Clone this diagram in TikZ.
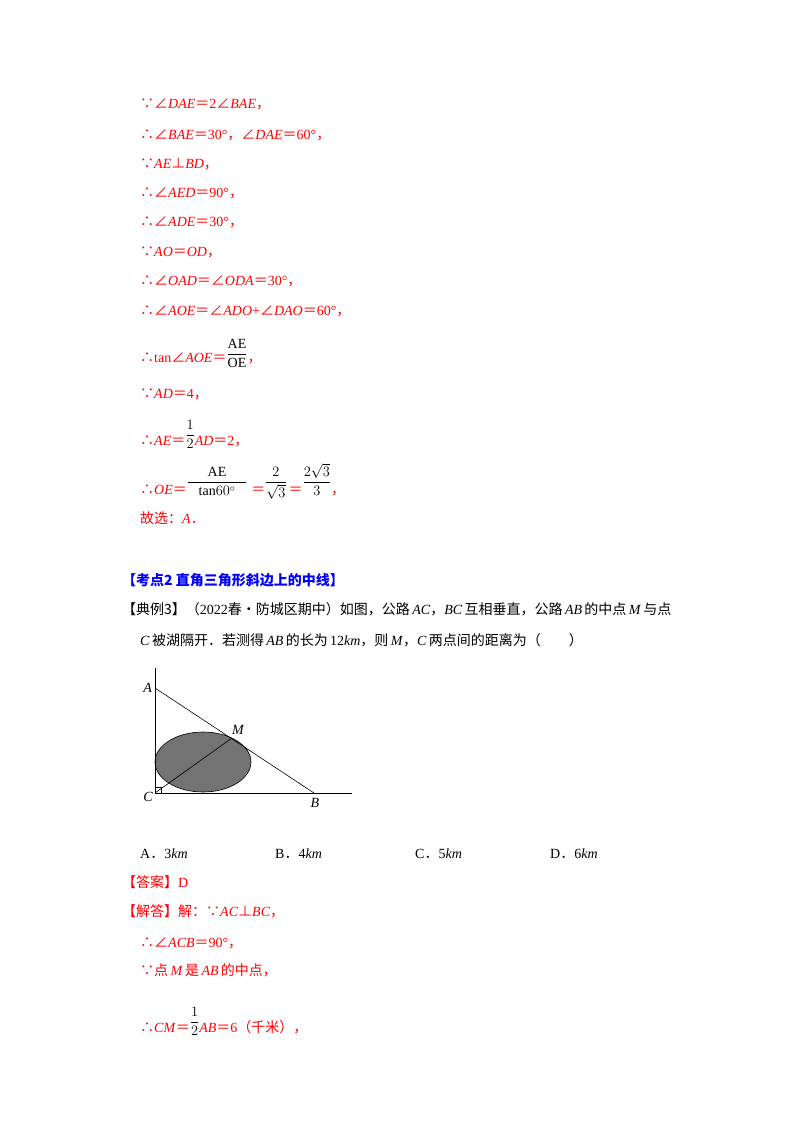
\documentclass[tikz,border=0pt]{standalone}
\usepackage{amsmath}
\usepackage{fontspec}
\setmainfont{Liberation Serif}
\newfontfamily\cjk{Noto Sans CJK SC}
\newcommand{\cj}[1]{{\cjk #1}}
\begin{document}
\begin{tikzpicture}[x=1pt,y=-1pt,
  txt/.style={anchor=base west,inner sep=0pt,font=\fontsize{14}{17}\selectfont},
  rtxt/.style={txt,text=red},
  lbl/.style={inner sep=0pt,font=\fontsize{14}{17}\selectfont\itshape}]
\useasboundingbox[fill=white] (0,0) rectangle (800,1132);
\node[rtxt] (l1) at (140,108) {\cj{∵∠}\textit{DAE}\cj{＝}2\cj{∠}\textit{BAE}\cj{，}};
\node[rtxt] (l2) at (140,139) {\cj{∴∠}\textit{BAE}\cj{＝}30°\cj{，∠}\textit{DAE}\cj{＝}60°\cj{，}};
\node[rtxt] (l3) at (140,168) {\cj{∵}\textit{AE}\cj{⊥}\textit{BD}\cj{，}};
\node[rtxt] (l4) at (140,197) {\cj{∴∠}\textit{AED}\cj{＝}90°\cj{，}};
\node[rtxt] (l5) at (140,226) {\cj{∴∠}\textit{ADE}\cj{＝}30°\cj{，}};
\node[rtxt] (l6) at (140,256) {\cj{∵}\textit{AO}\cj{＝}\textit{OD}\cj{，}};
\node[rtxt] (l7) at (140,285) {\cj{∴∠}\textit{OAD}\cj{＝∠}\textit{ODA}\cj{＝}30°\cj{，}};
\node[rtxt] (l8) at (140,315) {\cj{∴∠}\textit{AOE}\cj{＝∠}\textit{ADO}+\cj{∠}\textit{DAO}\cj{＝}60°\cj{，}};
\node[rtxt] (l9) at (140,362) {\cj{∴}tan\cj{∠}\textit{AOE}\cj{＝}\textcolor{black}{\raisebox{4pt}{$\dfrac{\mathrm{AE}}{\mathrm{OE}}$}}\cj{，}};
\node[rtxt] (l10) at (140,398) {\cj{∵}\textit{AD}\cj{＝}4\cj{，}};
\node[rtxt] (l11) at (140,445) {\cj{∴}\textit{AE}\cj{＝}\textcolor{black}{\raisebox{6pt}{$\dfrac{1}{2}$}}\textit{AD}\cj{＝}2\cj{，}};
\node[rtxt] (l12) at (140,494) {\cj{∴}\textit{OE}\cj{＝}\textcolor{black}{\raisebox{8pt}{$\dfrac{\makebox[58pt]{AE}}{\mathrm{tan}60^\circ}$}}\hspace{4pt}\cj{＝}\textcolor{black}{\raisebox{8pt}{$\dfrac{2}{\sqrt3}$}}\hspace{2pt}\cj{＝}\textcolor{black}{\raisebox{8pt}{$\dfrac{2\sqrt3}{3}$}}\cj{，}};
\node[rtxt] (l13) at (140,523) {\cj{故选：}\textit{A}\cj{．}};
\node[txt,text=blue] (h) at (122,585) {\cjk\bfseries 【考点2 直角三角形斜边上的中线】};
\node[txt] (q1) at (122,614) {\cj{【典例3】（}2022\cj{春•防城区期中）如图，公路}\,\textit{AC}\cj{，}\textit{BC}\,\cj{互相垂直，公路}\,\textit{AB}\,\cj{的中点}\,\textit{M}\,\cj{与点}};
\node[txt] (q2) at (140,645) {\textit{C}\,\cj{被湖隔开．若测得}\,\textit{AB}\,\cj{的长为}\,12\textit{km}\cj{，则}\,\textit{M}\cj{，}\textit{C}\,\cj{两点间的距离为（\quad\quad ）}};
% figure
\coordinate (C) at (155,793);
\coordinate (A) at (155,688);
\coordinate (B) at (314,793);
\coordinate (M) at (232,738);
\fill[black!55] (203,762) ellipse [x radius=48, y radius=30];
\draw[line width=0.6pt] (203,762) ellipse [x radius=48, y radius=30];
\draw[line width=0.6pt] (155,668) -- (C) -- (352,793);
\draw[line width=0.6pt] (A) -- (B);
\draw[line width=0.6pt] (C) -- (M);
\draw[line width=0.5pt] (155,787) -- (161,787) -- (161,793);
\node[lbl,anchor=east] (la) at (152,688) {A};
\node[lbl,anchor=south west] (lm) at (232,735) {M};
\node[lbl,anchor=east] (lc) at (153,797) {C};
\node[lbl,anchor=north] (lb) at (315,798) {B};
\node[txt] (oa) at (140,858) {A\cj{．}3\textit{km}};
\node[txt] (ob) at (275,858) {B\cj{．}4\textit{km}};
\node[txt] (oc) at (415,858) {C\cj{．}5\textit{km}};
\node[txt] (od) at (550,858) {D\cj{．}6\textit{km}};
\node[rtxt] (ans) at (122,887) {\cj{【答案】}D};
\node[rtxt] (s1) at (122,916) {\cj{【解答】解：∵}\textit{AC}\cj{⊥}\textit{BC}\cj{，}};
\node[rtxt] (s2) at (140,947) {\cj{∴∠}\textit{ACB}\cj{＝}90°\cj{，}};
\node[rtxt] (s3) at (140,975) {\cj{∵点}\,\textit{M}\,\cj{是}\,\textit{AB}\,\cj{的中点，}};
\node[rtxt] (s4) at (140,1032) {\cj{∴}\textit{CM}\cj{＝}\textcolor{black}{\raisebox{6pt}{$\dfrac{1}{2}$}}\textit{AB}\cj{＝}6\cj{（千米），}};
\end{tikzpicture}
\end{document}
